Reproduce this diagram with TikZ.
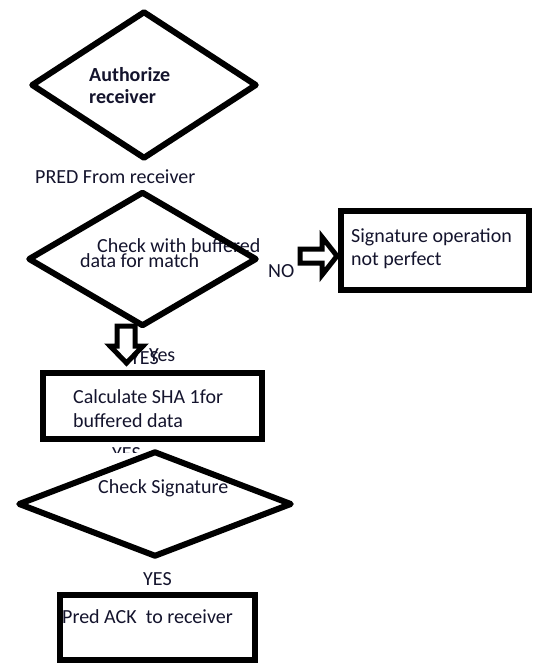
\documentclass[tikz,border=0pt]{standalone}
\usepackage{fontspec}
\setmainfont{Carlito}
\usetikzlibrary{shapes.geometric}
\definecolor{txt}{RGB}{20,20,45}
\begin{document}
\begin{tikzpicture}[x=1pt,y=-1pt,
  lbl/.style={text=txt, inner sep=0pt, anchor=base west, font=\fontsize{20pt}{24pt}\selectfont},
  dia/.style={diamond, draw=black, line width=6pt, line join=round, inner sep=0pt},
  boxn/.style={rectangle, draw=black, inner sep=0pt},
  blockarrow/.style={draw=black, fill=white, line width=5pt, line join=miter}]
\useasboundingbox (0,0) rectangle (533,663);
\fill[white] (0,0) rectangle (533,663);

% texts
\node[lbl] (t1a) at (89,82) {\bfseries Authorize};
\node[lbl] (t1b) at (89,104) {\bfseries receiver};
\node[lbl] (pred) at (35,183) {PRED From receiver};
\node[lbl] (t2a) at (97,252) {Check with buffered};
\node[lbl] (t2b) at (80,267) {data for match};
\node[lbl] (no) at (268,277) {NO};
\node[lbl] (yes1) at (130,364) {YES};
\node[lbl] (yes2) at (149,361) {Yes};
\node[lbl] (t3) at (98,493) {Check Signature};
\node[lbl] (yes4) at (143,585) {YES};
\begin{scope}
  \clip (100,446) rectangle (150,452);
  \node[lbl] (yes3) at (112,460) {YES};
\end{scope}

% decisions
\node[dia, minimum width=226pt, minimum height=148pt] (d1) at (144,85) {};
\node[dia, minimum width=229pt, minimum height=135pt] (d2) at (142.5,259) {};
\node[dia, minimum width=274pt, minimum height=106pt] (d3) at (155,504) {};

% boxes
\node[boxn, line width=6.5pt, minimum width=188pt, minimum height=79pt] (b1) at (435,250.5) {};
\node[boxn, line width=6pt, minimum width=219pt, minimum height=66pt] (b2) at (152.5,406) {};
\node[boxn, line width=6.5pt, minimum width=195pt, minimum height=65pt] (b3) at (157.5,627.5) {};

\node[lbl] (s1a) at (351,242) {Signature operation};
\node[lbl] (s1b) at (351,265) {not perfect};
\node[lbl] (s2a) at (73,403) {Calculate SHA 1for};
\node[lbl] (s2b) at (73,427) {buffered data};
\node[lbl] (s3) at (62,623) {Pred ACK~ to receiver};

% block arrows
\draw[blockarrow] (300,249) -- (322,249) -- (322,237) -- (337,256) -- (322,275) -- (322,263) -- (300,263) -- cycle;
\draw[blockarrow] (117,326) -- (135,326) -- (135,346) -- (143,346) -- (126.5,363) -- (110,346) -- (117,346) -- cycle;
\end{tikzpicture}
\end{document}
